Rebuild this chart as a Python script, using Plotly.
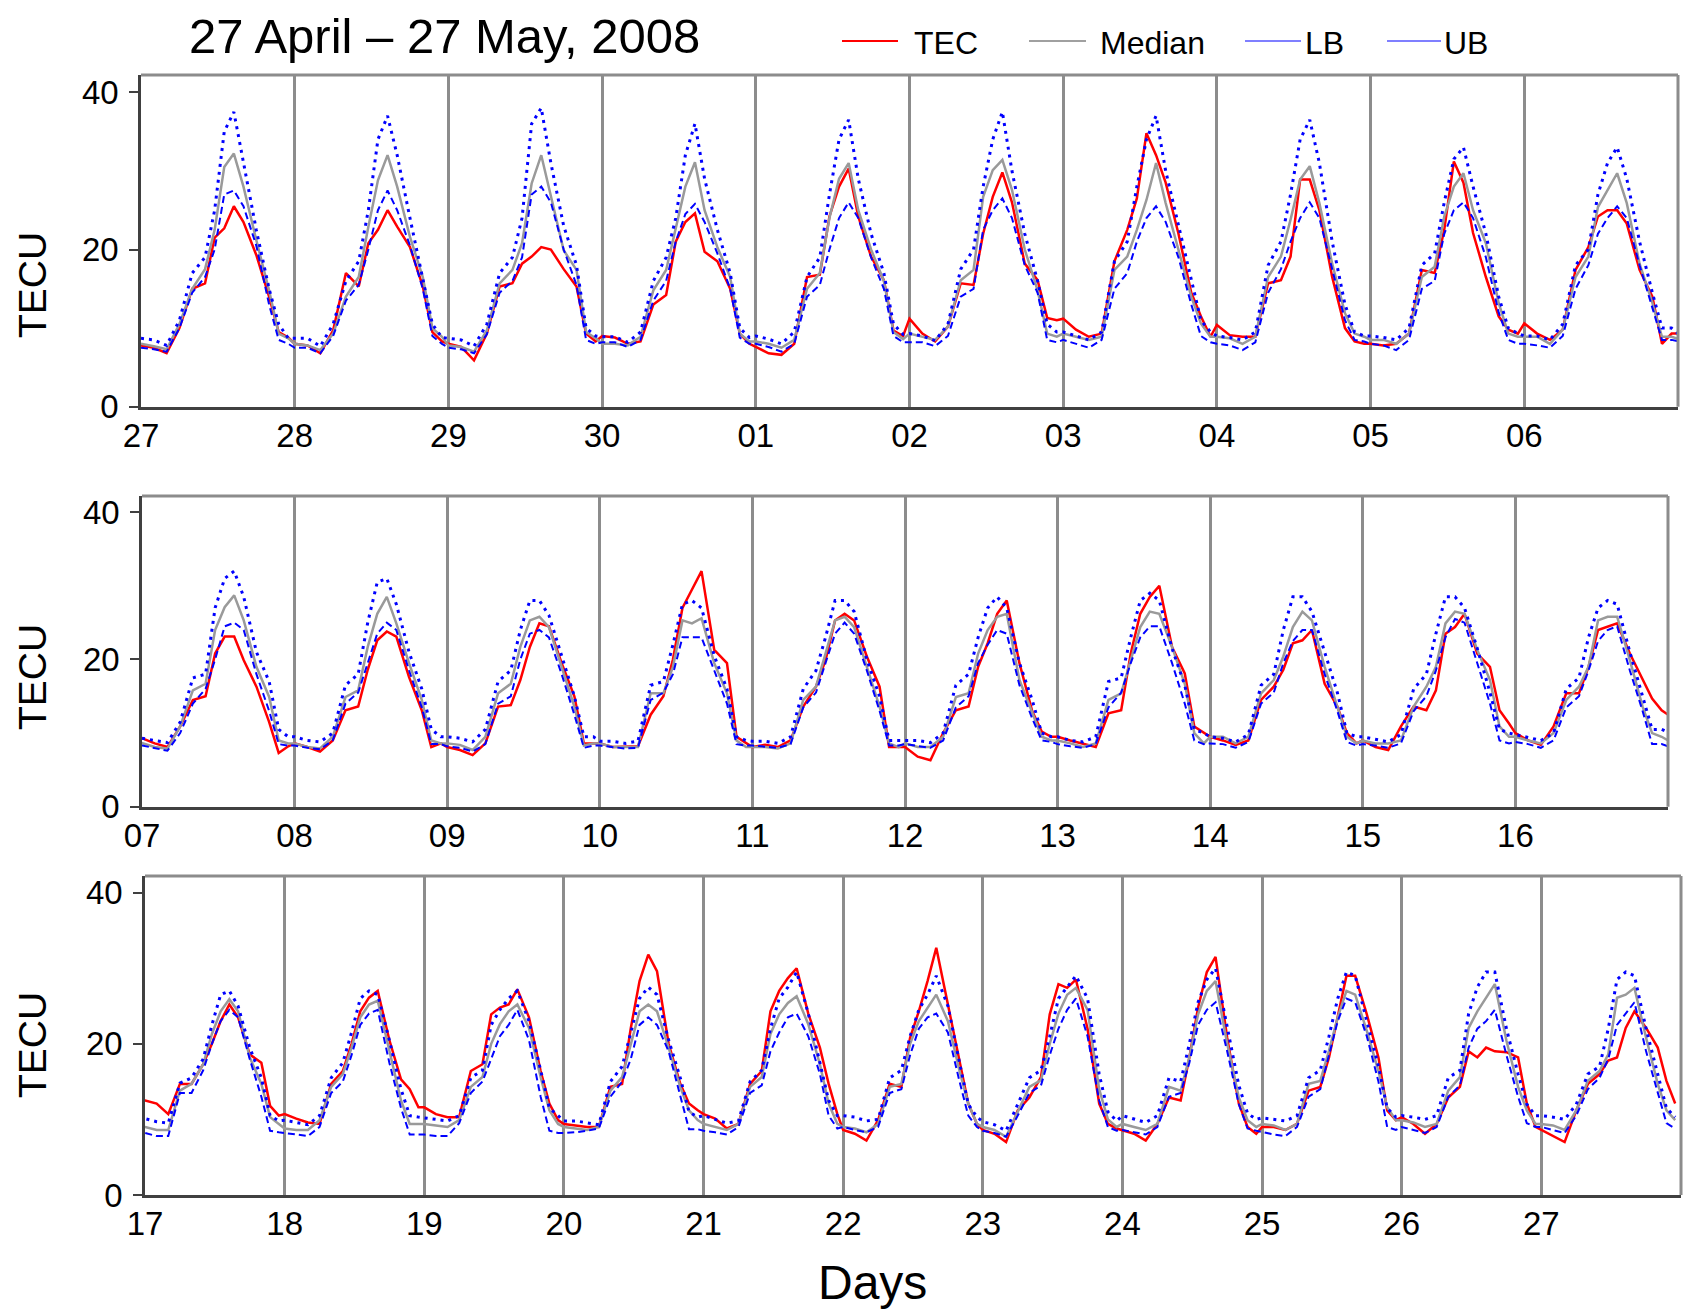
import plotly.graph_objects as go

# ---------------- data ----------------
HOURS = [0, 2, 4, 6, 8, 10, 11.5, 13, 14.5, 16, 18, 20, 21.5, 23]
DAY_LABELS = ['27', '28', '29', '30', '01', '02', '03', '04', '05', '06',
              '07', '08', '09', '10', '11', '12', '13', '14', '15', '16',
              '17', '18', '19', '20', '21', '22', '23', '24', '25', '26', '27']
PANEL_DAYS = [(0, 10), (10, 20), (20, 31)]
Y_TICKS = [0, 20, 40]

TEC = [
    [7.8, 7.5, 6.8, 10.0, 15.0, 15.7, 21.5, 22.7, 25.5, 23.5, 19.3, 14.0, 9.5, 8.8],
    [8.0, 7.8, 6.8, 9.7, 17.0, 15.3, 20.8, 22.5, 25.0, 22.9, 20.3, 15.3, 9.5, 8.3],
    [8.0, 7.6, 5.9, 9.3, 15.3, 15.7, 18.2, 19.1, 20.3, 20.0, 17.5, 15.3, 9.3, 8.3],
    [9.0, 8.8, 8.0, 8.3, 13.0, 14.2, 21.0, 23.5, 24.6, 19.7, 18.5, 15.0, 9.3, 8.0],
    [7.6, 6.8, 6.6, 8.0, 16.5, 16.8, 24.2, 28.0, 30.3, 24.2, 19.1, 16.1, 9.7, 9.0],
    [11.2, 9.3, 8.3, 10.2, 15.7, 15.5, 22.0, 26.7, 29.8, 26.0, 18.2, 16.1, 11.3, 11.0],
    [11.2, 9.8, 8.9, 9.3, 18.5, 22.5, 26.5, 34.8, 32.0, 28.5, 22.0, 14.5, 11.5, 8.9],
    [10.4, 9.1, 8.9, 8.9, 15.7, 16.1, 19.1, 28.9, 28.9, 25.0, 16.5, 10.0, 8.3, 8.0],
    [8.0, 7.8, 8.0, 9.3, 17.4, 17.0, 22.5, 31.2, 28.5, 22.1, 16.5, 11.5, 9.8, 9.3],
    [10.6, 9.3, 8.5, 9.8, 17.4, 20.3, 24.2, 25.0, 25.0, 23.3, 17.4, 14.0, 8.0, 9.3],
    [9.3, 8.6, 8.1, 10.9, 14.5, 15.0, 20.8, 23.1, 23.1, 19.9, 16.3, 11.5, 7.3, 8.2],
    [8.6, 8.1, 7.5, 9.0, 13.1, 13.6, 18.6, 22.6, 23.8, 23.1, 17.6, 13.1, 8.1, 8.6],
    [8.1, 7.7, 7.0, 8.6, 13.6, 13.8, 17.2, 21.7, 24.9, 24.5, 19.5, 15.0, 8.6, 8.6],
    [8.6, 8.1, 8.1, 8.2, 12.5, 15.0, 20.0, 27.0, 29.5, 32.0, 21.3, 19.5, 9.5, 8.6],
    [8.1, 8.4, 8.1, 9.0, 13.6, 16.3, 19.9, 25.3, 26.2, 25.3, 20.4, 16.3, 8.1, 8.1],
    [8.1, 6.8, 6.3, 10.0, 13.1, 13.6, 19.0, 22.2, 26.2, 28.0, 19.5, 13.0, 10.2, 9.5],
    [9.5, 9.0, 8.6, 8.1, 12.7, 13.1, 20.8, 26.2, 28.5, 30.0, 21.7, 18.1, 10.9, 10.0],
    [9.5, 9.0, 8.4, 9.0, 14.5, 16.3, 18.6, 22.2, 22.6, 24.0, 16.7, 13.6, 10.0, 8.6],
    [9.0, 8.1, 7.7, 10.9, 13.6, 13.1, 15.8, 23.5, 24.4, 26.2, 20.8, 19.0, 13.1, 11.3],
    [10.0, 9.0, 8.4, 10.9, 15.4, 15.4, 19.0, 24.0, 24.4, 24.9, 20.8, 17.2, 14.7, 13.1],
    [12.5, 12.1, 10.7, 14.7, 14.7, 17.3, 20.0, 23.0, 25.2, 23.5, 18.6, 17.5, 11.8, 10.5],
    [10.7, 10.1, 9.6, 9.4, 14.7, 16.4, 20.0, 24.3, 26.1, 27.0, 20.5, 15.3, 14.0, 11.6],
    [11.6, 10.7, 10.3, 10.3, 16.4, 17.3, 23.9, 24.8, 25.2, 27.2, 23.5, 16.4, 12.1, 9.9],
    [9.4, 9.2, 9.0, 9.0, 14.3, 14.7, 22.1, 28.3, 31.8, 29.6, 20.0, 14.7, 12.1, 11.2],
    [10.7, 10.1, 8.8, 9.4, 14.7, 16.4, 24.3, 27.0, 28.7, 30.0, 24.0, 19.5, 14.7, 10.7],
    [8.6, 8.1, 7.2, 9.9, 14.7, 14.3, 20.8, 24.3, 28.3, 32.7, 25.2, 17.3, 12.1, 9.4],
    [8.6, 8.1, 7.0, 11.2, 12.9, 15.6, 23.9, 27.9, 27.4, 28.5, 22.0, 12.1, 9.4, 8.8],
    [8.6, 8.1, 7.2, 9.4, 12.9, 12.5, 18.2, 24.8, 29.5, 31.5, 20.8, 12.1, 9.0, 8.1],
    [9.0, 9.0, 8.6, 9.4, 13.8, 14.3, 18.2, 23.5, 29.0, 29.0, 23.9, 18.2, 11.2, 9.9],
    [10.3, 9.4, 8.1, 9.4, 12.9, 14.3, 19.0, 18.2, 19.5, 19.0, 18.9, 18.2, 12.1, 9.0],
    [8.6, 7.7, 7.0, 11.2, 14.7, 16.0, 17.8, 18.2, 22.1, 24.3, 22.1, 19.5, 15.1, 12.1],
]

MEDIAN = [
    [8.0, 7.7, 7.3, 10.5, 15.0, 17.5, 22.5, 30.5, 32.2, 28.0, 21.2, 14.8, 9.3, 8.7],
    [8.0, 7.8, 7.2, 9.3, 14.0, 16.5, 22.9, 28.8, 32.0, 28.0, 21.6, 16.5, 10.0, 8.9],
    [7.8, 7.6, 7.0, 9.7, 15.7, 17.4, 20.8, 28.4, 32.0, 26.7, 19.9, 17.4, 9.5, 8.7],
    [8.0, 8.0, 7.8, 8.9, 14.8, 17.4, 22.9, 28.0, 31.1, 25.0, 20.3, 16.5, 9.3, 8.3],
    [8.3, 8.0, 7.5, 8.5, 15.0, 17.0, 24.0, 29.0, 31.0, 25.0, 20.0, 16.0, 9.5, 8.6],
    [9.3, 8.9, 8.5, 10.2, 16.1, 17.4, 26.7, 30.1, 31.4, 27.6, 20.0, 14.8, 9.3, 8.9],
    [9.3, 8.9, 8.5, 8.9, 17.4, 19.1, 22.5, 26.3, 31.0, 25.9, 19.9, 14.0, 10.6, 8.9],
    [8.9, 8.7, 8.0, 8.9, 16.5, 19.1, 23.8, 28.9, 30.6, 25.9, 18.2, 11.9, 9.3, 8.9],
    [8.5, 8.5, 8.0, 9.3, 16.5, 17.8, 24.2, 28.0, 29.7, 25.0, 20.8, 13.2, 9.3, 8.9],
    [8.9, 8.9, 8.0, 9.8, 16.5, 19.1, 25.4, 27.6, 29.7, 25.9, 18.2, 13.2, 8.9, 8.9],
    [8.6, 8.1, 7.9, 10.9, 15.8, 16.7, 24.0, 27.1, 28.7, 25.3, 19.0, 14.9, 9.0, 8.6],
    [8.6, 8.1, 7.9, 9.5, 14.9, 15.8, 21.7, 26.2, 28.5, 24.9, 19.5, 14.5, 9.0, 8.6],
    [8.6, 8.4, 7.7, 9.5, 15.4, 16.7, 21.7, 25.3, 25.8, 24.4, 19.0, 13.6, 8.3, 8.6],
    [8.6, 8.1, 8.1, 8.1, 15.4, 15.4, 19.0, 25.3, 24.9, 25.6, 19.5, 15.4, 9.0, 8.1],
    [8.1, 8.1, 7.9, 8.6, 14.5, 16.3, 20.8, 25.3, 25.8, 24.4, 19.0, 13.6, 8.6, 8.1],
    [8.6, 8.1, 8.1, 9.5, 14.9, 15.4, 20.8, 24.0, 25.8, 26.2, 17.2, 12.7, 9.5, 9.0],
    [9.0, 8.6, 8.1, 8.6, 14.5, 15.4, 19.9, 24.4, 26.5, 26.2, 21.7, 16.7, 10.0, 8.6],
    [9.5, 9.5, 8.6, 9.5, 15.4, 17.2, 20.4, 24.4, 26.5, 25.3, 19.0, 13.6, 9.5, 8.6],
    [9.0, 8.6, 8.6, 9.0, 13.6, 16.3, 19.0, 24.9, 26.5, 26.2, 21.3, 17.2, 10.9, 9.5],
    [9.5, 9.0, 8.6, 10.0, 14.5, 16.3, 19.0, 25.3, 25.8, 25.8, 19.9, 13.6, 10.0, 9.5],
    [9.0, 8.6, 8.6, 13.8, 14.7, 17.3, 21.3, 24.3, 25.9, 24.3, 18.2, 14.7, 10.3, 9.4],
    [8.8, 8.6, 8.6, 9.9, 14.3, 16.0, 19.5, 23.5, 25.2, 25.7, 19.1, 12.5, 9.4, 9.4],
    [9.4, 9.2, 9.0, 9.9, 14.3, 15.6, 20.0, 22.6, 24.3, 25.2, 22.1, 15.6, 11.2, 9.4],
    [9.0, 8.8, 8.6, 9.0, 13.8, 15.6, 20.0, 24.3, 25.2, 24.3, 19.5, 14.3, 11.2, 9.9],
    [9.4, 9.0, 8.6, 9.4, 14.3, 15.6, 21.3, 23.9, 25.4, 26.3, 22.6, 17.3, 12.1, 9.4],
    [9.0, 8.8, 8.3, 9.4, 14.3, 14.7, 20.0, 23.0, 24.8, 26.5, 23.0, 16.4, 12.1, 9.4],
    [9.0, 8.6, 7.7, 11.0, 14.3, 15.2, 20.0, 24.0, 26.5, 27.4, 24.5, 14.0, 10.0, 9.0],
    [9.4, 9.0, 8.6, 9.4, 14.3, 13.8, 18.2, 23.9, 27.0, 28.3, 20.0, 12.9, 9.9, 9.0],
    [9.4, 9.2, 8.6, 9.4, 14.7, 15.1, 19.1, 23.5, 27.0, 26.5, 21.7, 16.4, 11.6, 9.9],
    [9.9, 9.6, 9.0, 9.4, 13.8, 15.6, 22.1, 24.3, 26.1, 27.9, 20.4, 14.3, 11.2, 9.4],
    [9.4, 9.2, 8.6, 11.2, 15.1, 16.4, 18.6, 26.1, 26.5, 27.4, 20.8, 14.7, 11.2, 9.9],
]

LB = [
    [7.5, 7.3, 7.0, 10.0, 14.5, 16.5, 20.0, 27.0, 27.5, 25.5, 20.5, 13.0, 8.5, 8.0],
    [7.5, 7.5, 6.8, 9.0, 13.5, 15.5, 20.0, 25.0, 27.5, 25.0, 20.5, 15.0, 9.0, 8.0],
    [7.5, 7.3, 6.8, 9.2, 14.5, 16.0, 19.0, 27.0, 28.0, 26.0, 20.0, 15.5, 8.5, 8.0],
    [8.2, 8.2, 7.6, 8.5, 13.5, 16.0, 21.0, 24.5, 25.8, 23.5, 19.5, 15.0, 8.8, 8.0],
    [8.0, 7.6, 7.0, 8.0, 14.0, 15.5, 20.0, 24.0, 26.0, 24.0, 19.0, 15.0, 9.0, 8.2],
    [8.2, 8.2, 7.7, 9.0, 14.0, 15.0, 22.5, 25.0, 26.5, 24.0, 18.0, 14.5, 8.5, 8.2],
    [8.5, 8.0, 7.5, 8.5, 15.0, 17.0, 21.0, 24.0, 25.5, 23.5, 19.0, 13.0, 9.0, 8.2],
    [8.0, 7.8, 7.2, 8.2, 14.5, 17.5, 21.0, 24.0, 26.0, 24.0, 17.5, 11.0, 8.5, 8.3],
    [8.0, 7.8, 7.2, 8.5, 15.0, 16.0, 22.0, 25.0, 26.0, 24.0, 19.0, 12.0, 8.5, 8.0],
    [8.0, 7.8, 7.5, 9.0, 15.0, 18.0, 22.0, 24.0, 25.5, 24.0, 18.0, 12.5, 8.5, 8.5],
    [8.3, 8.0, 7.6, 10.0, 14.0, 16.0, 20.0, 24.5, 25.0, 24.0, 18.0, 13.0, 8.5, 8.3],
    [8.3, 8.0, 7.8, 9.0, 14.0, 15.5, 19.5, 23.5, 25.0, 24.0, 18.5, 13.5, 8.5, 8.5],
    [8.2, 8.0, 7.5, 8.5, 14.0, 15.0, 20.0, 23.5, 24.0, 23.0, 18.0, 12.5, 8.0, 8.3],
    [8.3, 8.1, 7.9, 8.0, 14.5, 15.5, 18.0, 23.0, 23.0, 23.0, 18.5, 14.0, 8.5, 8.3],
    [8.3, 8.1, 8.0, 8.5, 13.5, 15.5, 19.5, 23.5, 25.0, 23.5, 18.5, 13.0, 8.3, 8.3],
    [8.5, 8.3, 8.0, 9.0, 13.5, 15.0, 19.5, 22.0, 24.0, 23.5, 16.5, 12.0, 9.0, 8.8],
    [8.5, 8.2, 8.0, 8.5, 13.5, 15.5, 19.5, 23.0, 24.5, 24.5, 19.5, 14.0, 9.0, 8.5],
    [8.6, 8.5, 8.0, 8.8, 14.0, 15.5, 19.5, 22.5, 24.0, 24.0, 18.0, 13.0, 8.8, 8.3],
    [8.5, 8.3, 8.0, 8.6, 13.0, 15.0, 18.5, 23.0, 25.5, 25.0, 19.5, 14.0, 9.0, 8.6],
    [8.8, 8.5, 8.0, 9.0, 13.5, 15.0, 18.5, 22.5, 24.0, 24.5, 18.5, 13.0, 8.5, 8.5],
    [8.2, 7.8, 7.8, 13.5, 13.5, 16.5, 20.0, 23.0, 24.5, 23.5, 18.0, 13.0, 8.5, 8.3],
    [8.2, 8.0, 7.8, 9.0, 13.5, 15.0, 18.5, 22.5, 24.0, 24.5, 17.5, 11.5, 8.0, 8.0],
    [8.0, 7.8, 7.8, 9.5, 13.5, 15.0, 18.0, 21.0, 22.5, 24.5, 20.5, 13.0, 8.5, 8.2],
    [8.2, 8.3, 8.5, 8.8, 13.0, 15.0, 18.0, 22.5, 23.5, 22.5, 19.0, 13.0, 8.7, 8.7],
    [8.5, 8.3, 8.0, 9.0, 13.5, 14.5, 19.0, 21.5, 23.5, 24.0, 21.0, 16.0, 10.5, 8.8],
    [9.0, 8.6, 8.3, 9.0, 13.5, 14.0, 18.5, 22.0, 23.5, 24.0, 21.5, 15.0, 10.5, 9.0],
    [8.5, 8.2, 7.7, 10.5, 13.5, 14.5, 18.5, 22.0, 24.5, 26.0, 21.0, 12.5, 9.0, 8.5],
    [8.6, 8.3, 8.0, 9.0, 13.0, 13.5, 17.5, 22.5, 24.5, 25.5, 19.0, 12.0, 8.8, 8.5],
    [8.3, 8.0, 7.8, 9.0, 13.0, 14.0, 18.5, 23.0, 26.0, 25.5, 21.0, 15.0, 9.0, 8.6],
    [9.0, 8.6, 8.2, 9.0, 13.0, 14.5, 19.5, 22.0, 23.0, 24.5, 18.5, 13.0, 9.5, 9.0],
    [9.0, 8.6, 8.2, 10.5, 14.0, 15.5, 18.0, 22.5, 24.0, 25.5, 19.0, 13.5, 9.5, 8.8],
]

UB = [
    [8.7, 8.5, 7.8, 11.0, 17.0, 19.0, 25.0, 35.0, 37.5, 31.0, 22.5, 15.0, 10.5, 8.7],
    [8.7, 8.7, 7.7, 10.5, 16.0, 18.5, 25.0, 34.0, 37.0, 32.0, 24.0, 16.5, 10.5, 8.8],
    [8.7, 8.5, 7.7, 10.5, 17.0, 19.0, 24.0, 36.0, 38.0, 31.0, 23.0, 18.0, 10.0, 9.0],
    [8.9, 8.9, 8.2, 9.5, 16.0, 19.0, 24.0, 32.0, 36.0, 29.0, 22.5, 17.0, 10.0, 8.8],
    [9.0, 8.6, 8.0, 9.5, 16.5, 19.0, 27.0, 34.0, 36.5, 29.0, 22.0, 17.0, 10.5, 9.2],
    [9.3, 9.0, 8.4, 10.5, 17.5, 20.0, 28.0, 34.0, 37.5, 30.0, 22.0, 16.0, 10.5, 9.5],
    [9.5, 9.0, 8.5, 9.5, 18.5, 21.0, 28.0, 34.0, 37.0, 30.0, 23.0, 16.0, 11.0, 9.5],
    [9.0, 8.8, 8.5, 9.5, 18.0, 21.0, 27.0, 34.0, 36.5, 31.0, 21.0, 13.0, 9.5, 9.0],
    [9.0, 8.8, 8.5, 10.0, 18.0, 19.5, 26.0, 31.5, 33.0, 28.0, 22.0, 14.0, 10.0, 9.3],
    [9.0, 9.0, 8.5, 10.5, 18.0, 20.0, 27.0, 31.0, 33.0, 29.0, 21.0, 14.5, 10.0, 10.0],
    [9.3, 9.0, 8.7, 11.5, 17.5, 18.0, 27.0, 31.0, 32.0, 28.5, 21.0, 17.0, 10.5, 9.5],
    [9.5, 9.0, 8.8, 10.0, 16.5, 18.0, 25.0, 30.5, 31.0, 27.5, 21.0, 16.0, 10.5, 9.5],
    [9.5, 9.3, 8.8, 10.5, 17.0, 18.5, 24.0, 28.0, 28.0, 26.0, 20.5, 15.0, 9.5, 9.5],
    [8.9, 8.9, 8.6, 8.9, 16.5, 17.0, 22.0, 27.5, 28.0, 27.0, 20.5, 16.0, 9.5, 9.0],
    [8.9, 8.9, 8.6, 9.5, 16.0, 18.5, 23.0, 28.0, 28.0, 26.5, 20.0, 15.0, 9.0, 9.0],
    [9.0, 9.0, 8.7, 10.0, 16.5, 18.0, 23.0, 27.0, 28.5, 27.0, 19.5, 14.5, 10.0, 9.5],
    [9.5, 9.0, 8.8, 9.5, 17.0, 17.5, 23.0, 28.0, 29.0, 28.0, 21.5, 16.5, 10.5, 10.0],
    [9.5, 9.3, 8.8, 9.8, 16.5, 18.0, 24.0, 28.5, 28.5, 26.5, 21.0, 15.5, 10.0, 9.5],
    [9.5, 9.2, 8.8, 9.8, 16.0, 18.0, 23.5, 28.5, 28.5, 27.0, 21.5, 15.5, 10.5, 10.0],
    [9.8, 9.5, 9.0, 10.0, 16.0, 17.5, 23.0, 27.0, 28.0, 27.5, 21.0, 15.0, 10.5, 10.5],
    [10.1, 9.7, 9.5, 14.8, 15.5, 18.0, 22.5, 26.5, 27.0, 25.0, 19.5, 15.5, 10.5, 9.8],
    [9.9, 9.6, 9.3, 10.5, 15.5, 17.5, 21.5, 26.0, 27.0, 26.5, 20.5, 14.0, 10.5, 10.3],
    [10.2, 10.0, 9.8, 10.5, 15.5, 16.5, 22.5, 24.5, 26.0, 27.0, 23.0, 16.5, 11.5, 10.5],
    [9.8, 9.8, 9.5, 9.3, 15.0, 17.0, 21.5, 26.0, 27.5, 26.5, 20.5, 15.5, 11.0, 10.3],
    [10.5, 10.0, 9.5, 9.8, 15.0, 16.5, 22.0, 26.0, 27.5, 29.5, 24.0, 17.5, 12.5, 10.5],
    [10.5, 10.3, 9.8, 10.0, 15.5, 16.5, 21.0, 24.5, 26.5, 29.0, 25.0, 17.5, 12.0, 10.3],
    [9.7, 9.3, 8.5, 12.0, 15.5, 16.5, 21.0, 26.0, 27.5, 29.0, 26.0, 16.0, 11.0, 9.8],
    [10.5, 10.0, 9.6, 10.5, 15.5, 15.0, 20.0, 25.5, 28.5, 30.0, 22.5, 14.5, 10.8, 10.0],
    [10.2, 10.0, 9.8, 10.5, 15.5, 16.5, 21.0, 26.0, 29.5, 29.0, 23.0, 17.0, 11.5, 10.3],
    [10.5, 10.3, 10.0, 10.5, 15.5, 16.5, 24.0, 27.5, 29.5, 29.5, 22.0, 16.0, 12.0, 10.5],
    [10.5, 10.3, 10.0, 12.0, 16.0, 17.0, 22.0, 28.5, 29.5, 29.0, 22.0, 16.0, 11.5, 10.3],
]

# ---------------- styling ----------------
FONT = "Liberation Sans, Arial, sans-serif"
W, H = 1686, 1312
GRID_GREY = "#8c8c8c"
AXIS_DARK = "#404040"

# panel frames in pixels (left, right, top, bottom)
PANEL_PX = [(141, 1678, 75, 406.7), (142, 1668, 496, 806.7), (145, 1681, 876, 1195)]
YMAX = 42.2

SERIES = [
    ("TEC", TEC, dict(color="#ff0000", width=2.5)),
    ("Median", MEDIAN, dict(color="#9a9a9a", width=2.5)),
    ("LB", LB, dict(color="#0000ff", width=2, dash="7px,4px")),
    ("UB", UB, dict(color="#0000ff", width=3, dash="3px,5px")),
]

x_all = [d + h / 24.0 for d in range(len(DAY_LABELS)) for h in HOURS]


def flat(days):
    return [v for day in days for v in day]


fig = go.Figure()
shapes = []
annotations = []
layout = dict(
    width=W, height=H, autosize=False,
    margin=dict(l=0, r=0, t=0, b=0, autoexpand=False),
    paper_bgcolor="white", plot_bgcolor="white",
    showlegend=False,
    font=dict(family=FONT, color="black", size=33),
)

for i, (a, b) in enumerate(PANEL_DAYS):
    k = "" if i == 0 else str(i + 1)
    l, r, t, bt = PANEL_PX[i]
    xd = [l / W, r / W]
    yd = [1 - bt / H, 1 - t / H]
    for name, vals, line in SERIES:
        fig.add_trace(go.Scatter(
            x=x_all, y=flat(vals), mode="lines", name=name,
            line=line, xaxis="x" + k, yaxis="y" + k, showlegend=False,
            hoverinfo="skip",
        ))
    layout["xaxis" + k] = dict(
        domain=xd, range=[a, b], anchor="y" + k, automargin=False,
        tickmode="array", tickvals=list(range(a, b)), ticktext=DAY_LABELS[a:b],
        showgrid=True, gridcolor=GRID_GREY, gridwidth=3, zeroline=False,
        showline=True, linecolor=AXIS_DARK, linewidth=2.5,
        ticks="", tickfont=dict(size=33, family=FONT, color="black"),
        ticklabelstandoff=-2, fixedrange=True,
    )
    layout["yaxis" + k] = dict(
        domain=yd, range=[0, YMAX], anchor="x" + k, automargin=False,
        tickmode="array", tickvals=Y_TICKS,
        showgrid=False, zeroline=False,
        showline=True, linecolor=AXIS_DARK, linewidth=2.5,
        ticks="outside", ticklen=9, tickwidth=2, tickcolor=AXIS_DARK,
        tickfont=dict(size=33, family=FONT, color="black"),
        ticklabelstandoff=4, fixedrange=True,
    )
    # top and right frame
    shapes.append(dict(type="line", xref="x" + k + " domain", yref="y" + k + " domain",
                       x0=0, x1=1, y0=1, y1=1, line=dict(color=GRID_GREY, width=3)))
    shapes.append(dict(type="line", xref="x" + k + " domain", yref="y" + k + " domain",
                       x0=1, x1=1, y0=0, y1=1, line=dict(color=GRID_GREY, width=3)))

# y-axis titles
for ycen in [285, 677, 1045]:
    annotations.append(dict(text="TECU", xref="paper", yref="paper", x=32 / W, y=1 - ycen / H,
                            xanchor="center", yanchor="middle", textangle=-90, showarrow=False,
                            font=dict(size=39, family=FONT, color="black")))

# x-axis title
annotations.append(dict(text="Days", xref="paper", yref="paper", x=872 / W, y=1 - 1282 / H,
                        xanchor="center", yanchor="middle", showarrow=False,
                        font=dict(size=48, family=FONT, color="black")))

# title
annotations.append(dict(text="27 April \u2013 27 May, 2008", xref="paper", yref="paper",
                        x=444 / W, y=1 - 36 / H, xanchor="center", yanchor="middle",
                        showarrow=False, font=dict(size=49, family=FONT, color="black")))

# legend (drawn manually)
LEGEND = [("TEC", "#ff0000", 842, 898, 912), ("Median", "#a0a0a0", 1029, 1086, 1098),
          ("LB", "#7f7fff", 1245, 1301, 1303), ("UB", "#7f7fff", 1387, 1441, 1442)]
for name, col, x0, x1, xt in LEGEND:
    shapes.append(dict(type="line", xref="paper", yref="paper", x0=x0 / W, x1=x1 / W,
                       y0=1 - 41 / H, y1=1 - 41 / H, line=dict(color=col, width=2)))
    annotations.append(dict(text=name, xref="paper", yref="paper", x=xt / W, y=1 - 43 / H,
                            xanchor="left", yanchor="middle", showarrow=False,
                            font=dict(size=32, family=FONT, color="black")))

layout["shapes"] = shapes
layout["annotations"] = annotations
fig.update_layout(**layout)
fig.write_html("out.html")
